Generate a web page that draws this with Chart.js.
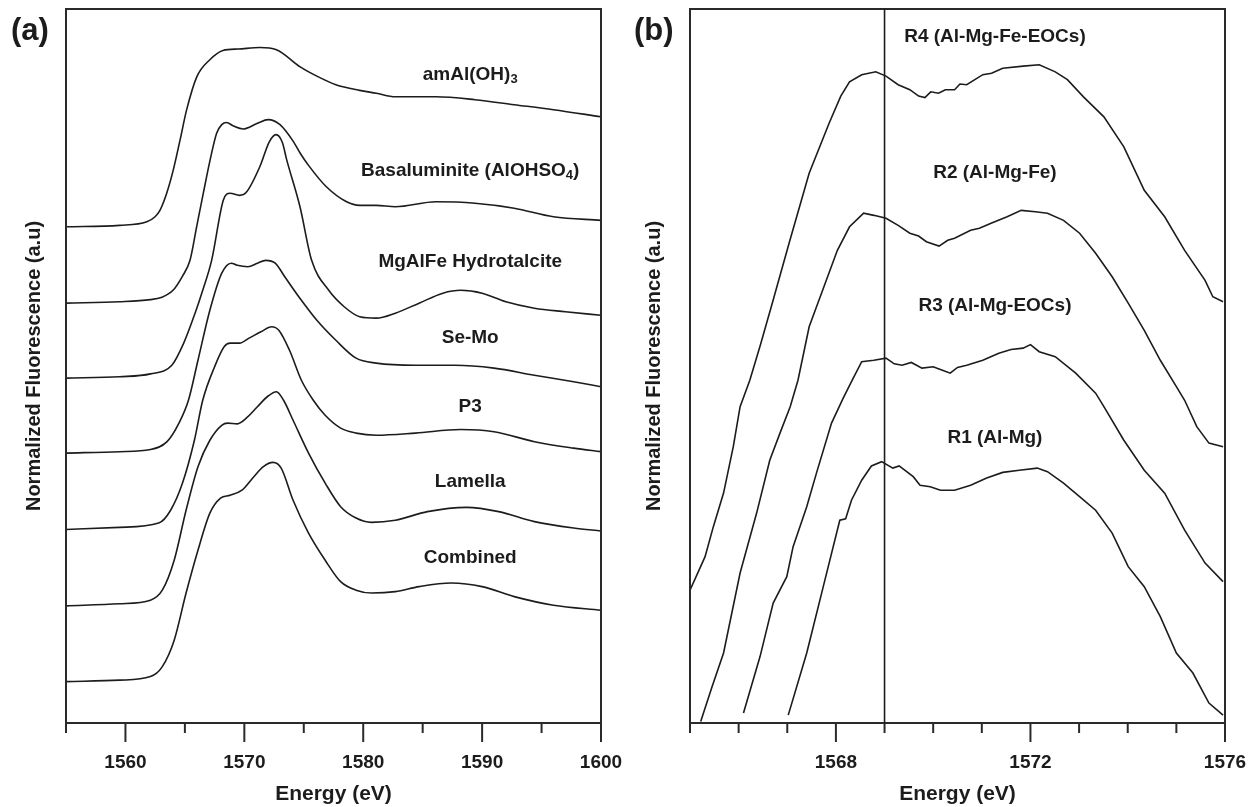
<!DOCTYPE html>
<html>
<head>
<meta charset="utf-8">
<script src="https://cdn.jsdelivr.net/npm/chart.js@4.4.1/dist/chart.umd.min.js"></script>
<style>
  body { margin: 0; background: #fff; }
  #wrap { position: relative; width: 1251px; height: 807px; }
  canvas { position: absolute; top: 0; }
</style>
</head>
<body>
<div id="wrap">
  <canvas id="chartA" width="625" height="807" style="left:0"></canvas>
  <canvas id="chartB" width="626" height="807" style="left:625px"></canvas>
</div>
<script>
// (a) stacked Al K-edge spectra, [energy (eV), normalized fluorescence (a.u.)]
const amAlOH3 = [[1555,69.5],[1559.5,69.7],[1561.8,70.2],[1562.49,70.9],[1562.9,71.8],[1563.47,74.2],[1564.03,77.5],[1564.6,81.7],[1565.15,85.9],[1566.0,90.5],[1567.1,92.9],[1568.2,94.2],[1569.5,94.4],[1571.3,94.6],[1572.7,94.3],[1574.7,91.9],[1576.1,90.6],[1577.7,89.4],[1579.7,88.6],[1581.1,88.2],[1582.7,87.7],[1586.1,87.7],[1589.4,87.3],[1592.7,86.6],[1596.0,85.9],[1600,84.9]];
const basaluminite = [[1555,58.8],[1559.5,59.0],[1562.1,59.3],[1563.0,59.6],[1564.0,60.6],[1564.8,62.6],[1565.43,64.8],[1566.0,69.6],[1566.55,74.2],[1567.1,78.7],[1567.67,82.6],[1568.1,83.8],[1568.5,84.1],[1569.1,83.6],[1569.9,83.2],[1571.1,84.0],[1572.0,84.5],[1573.0,83.8],[1574.1,81.5],[1574.7,79.8],[1575.4,78.1],[1576.9,75.1],[1578.6,73.0],[1579.7,72.5],[1581.1,72.5],[1582.7,72.3],[1586.1,73.0],[1589.4,72.8],[1592.7,72.1],[1596.0,70.9],[1600,70.4]];
const hydrotalcite = [[1555,48.3],[1559.5,48.5],[1562.1,48.9],[1563.9,50.1],[1564.9,53.2],[1565.9,57.6],[1566.5,60.6],[1567.25,64.8],[1568.23,73.2],[1568.8,74.2],[1569.6,73.9],[1570.2,74.4],[1571.3,77.9],[1572.1,81.4],[1572.66,82.4],[1573.2,81.3],[1573.56,78.9],[1574.68,72.3],[1575.66,64.8],[1577.1,60.6],[1578.4,58.3],[1579.7,56.9],[1581.1,56.7],[1582.7,57.4],[1584.7,58.8],[1586.7,60.2],[1588.2,60.6],[1590.0,60.2],[1592.0,59.0],[1594.4,58.1],[1597.0,57.6],[1600,57.1]];
const seMo = [[1555,37.8],[1559.5,38.0],[1562.1,38.3],[1563.5,39.4],[1564.5,42.0],[1565.3,45.2],[1566.1,50.8],[1567.1,57.8],[1568.1,63.0],[1568.9,64.4],[1569.4,64.1],[1570.3,63.9],[1571.1,64.4],[1571.8,64.8],[1572.6,64.4],[1573.4,62.5],[1574.8,59.2],[1576.1,56.4],[1577.7,53.6],[1579.4,51.1],[1581.1,50.4],[1584.4,50.1],[1587.7,50.1],[1591.0,49.7],[1594.4,48.7],[1597.7,47.8],[1600,47.1]];
const p3 = [[1555,27.1],[1559.5,27.4],[1562.8,28.0],[1563.8,29.8],[1564.8,33.6],[1565.8,39.6],[1566.5,45.2],[1567.5,49.9],[1568.3,52.7],[1568.8,53.2],[1569.6,53.2],[1570.4,53.9],[1571.4,54.8],[1572.3,55.5],[1572.9,55.0],[1573.8,52.2],[1574.8,48.0],[1575.8,45.2],[1576.8,43.1],[1578.1,41.3],[1579.4,40.6],[1581.1,40.3],[1584.4,40.6],[1588.2,41.1],[1591.0,40.8],[1594.4,39.4],[1597.7,38.5],[1600,38.0]];
const lamella = [[1555,16.4],[1559.5,16.7],[1562.1,17.2],[1563.1,18.6],[1564.1,22.8],[1565.1,29.8],[1566.1,35.9],[1567.1,39.6],[1568.1,41.7],[1568.6,42.0],[1569.4,41.9],[1570.3,42.9],[1571.1,44.3],[1572.0,45.8],[1572.7,46.4],[1573.3,45.2],[1574.1,42.4],[1575.4,37.8],[1576.8,33.6],[1578.1,30.3],[1579.4,28.7],[1580.7,28.1],[1582.7,28.4],[1585.4,29.6],[1588.7,30.2],[1591.4,29.6],[1594.4,28.2],[1597.7,27.3],[1600,26.9]];
const combined = [[1555,5.8],[1559.5,6.0],[1562.1,6.5],[1563.1,7.9],[1564.1,11.6],[1565.1,18.2],[1566.1,24.2],[1567.1,29.4],[1568.0,31.5],[1568.8,31.9],[1569.8,32.6],[1570.8,34.5],[1571.6,35.9],[1572.4,36.5],[1573.1,35.7],[1574.1,31.2],[1575.4,26.6],[1576.8,22.8],[1578.1,19.8],[1579.4,18.6],[1580.7,18.2],[1582.7,18.4],[1584.7,19.1],[1587.4,19.6],[1590.0,19.1],[1592.7,17.7],[1596.0,16.5],[1600,15.8]];

// (b) region spectra, edge region only
const r4 = [[1565,18.6],[1565.31,23.3],[1565.48,27.5],[1565.69,32.2],[1565.89,38.7],[1566.03,44.3],[1566.23,48.0],[1566.45,53.0],[1566.7,59.0],[1567.05,67.5],[1567.45,77.0],[1567.86,84.0],[1568.1,87.8],[1568.28,89.8],[1568.53,90.8],[1568.82,91.2],[1569.03,90.6],[1569.28,89.4],[1569.52,88.7],[1569.7,87.8],[1569.83,87.6],[1569.95,88.4],[1570.11,88.2],[1570.25,88.7],[1570.44,88.7],[1570.55,89.5],[1570.69,89.4],[1571.02,90.8],[1571.2,91.0],[1571.43,91.7],[1571.85,92.0],[1572.18,92.2],[1572.51,91.2],[1572.76,90.1],[1573.09,87.7],[1573.51,84.9],[1573.92,80.7],[1574.34,74.6],[1574.76,70.9],[1575.17,66.2],[1575.59,62.0],[1575.75,59.7],[1575.96,59.0]];
const r2 = [[1565.22,0.2],[1565.45,5.0],[1565.69,9.8],[1566.03,21.0],[1566.37,29.4],[1566.64,36.8],[1566.85,40.6],[1567.06,44.3],[1567.22,48.0],[1567.45,55.5],[1567.78,61.6],[1568.03,66.2],[1568.28,69.5],[1568.57,71.4],[1568.78,71.1],[1569.03,70.7],[1569.28,69.7],[1569.52,68.6],[1569.7,68.2],[1569.86,67.4],[1570.12,66.8],[1570.3,67.6],[1570.44,67.9],[1570.77,69.0],[1570.95,69.3],[1571.19,70.0],[1571.52,70.9],[1571.81,71.8],[1572.1,71.6],[1572.35,71.4],[1572.68,70.4],[1573.01,68.6],[1573.34,65.8],[1573.68,62.5],[1574.01,58.8],[1574.34,55.0],[1574.67,50.8],[1575.0,47.1],[1575.17,45.2],[1575.42,41.5],[1575.67,39.2],[1575.96,38.7]];
const r3 = [[1566.1,1.4],[1566.44,9.3],[1566.71,16.8],[1566.99,20.5],[1567.12,24.7],[1567.4,30.3],[1567.6,35.0],[1567.91,42.0],[1568.15,45.5],[1568.32,47.8],[1568.53,50.6],[1568.78,50.8],[1569.03,51.1],[1569.2,50.3],[1569.36,50.1],[1569.55,50.5],[1569.77,49.7],[1570.0,49.9],[1570.19,49.4],[1570.35,49.0],[1570.5,49.8],[1570.69,50.1],[1571.02,50.8],[1571.35,51.8],[1571.6,52.3],[1571.85,52.5],[1572.0,53.0],[1572.18,52.0],[1572.51,51.3],[1572.93,49.0],[1573.34,46.2],[1573.51,44.3],[1573.92,39.6],[1574.34,35.4],[1574.76,32.2],[1575.17,27.0],[1575.59,22.4],[1575.96,19.8]];
const r1 = [[1567.02,1.1],[1567.4,9.8],[1567.74,19.1],[1568.08,28.4],[1568.2,28.6],[1568.32,31.2],[1568.53,34.0],[1568.73,36.0],[1568.94,36.6],[1569.17,35.7],[1569.3,36.0],[1569.59,34.5],[1569.73,33.3],[1569.94,33.1],[1570.15,32.6],[1570.44,32.6],[1570.77,33.3],[1571.1,34.3],[1571.43,35.1],[1571.77,35.4],[1572.14,35.7],[1572.35,35.2],[1572.68,33.6],[1573.01,31.7],[1573.34,29.8],[1573.68,26.6],[1574.01,21.9],[1574.34,19.1],[1574.67,14.9],[1575.0,9.8],[1575.34,7.0],[1575.67,2.8],[1575.96,1.1]];

const edgeEnergy = 1569; // vertical reference line in (b)

const FONT = "'Liberation Sans', Arial, sans-serif";
const INK = '#1c1c1c';

function toXY(pairs) {
    return pairs.map(([x, y]) => ({x, y}));
}

function lineSet(pairs, tension) {
    return {
        data: toXY(pairs),
        borderColor: INK,
        borderWidth: 1.6,
        pointRadius: 0,
        fill: false,
        tension: tension,
        cubicInterpolationMode: tension ? 'monotone' : 'default'
    };
}

// text with an optional subscript part, centred on cx
function drawLabel(ctx, parts, cx, cy) {
    const big = 'bold 19px ' + FONT, small = 'bold 13px ' + FONT;
    let total = 0;
    parts.forEach(p => { ctx.font = p.sub ? small : big; total += ctx.measureText(p.t).width; });
    let x = cx - total / 2;
    parts.forEach(p => {
        ctx.font = p.sub ? small : big;
        ctx.fillText(p.t, x, cy + (p.sub ? 5 : 0));
        x += ctx.measureText(p.t).width;
    });
}

const framePlugin = {
    id: 'frame',
    afterDraw(chart, args, opts) {
        const {ctx, chartArea: a, scales: {x, y}} = chart;
        ctx.save();
        ctx.strokeStyle = '#2a2a2a';
        ctx.lineWidth = 2;
        ctx.strokeRect(a.left, a.top, a.right - a.left, a.bottom - a.top);
        x.ticks.forEach(t => {
            const px = x.getPixelForValue(t.value);
            const len = t.value % opts.major === 0 ? 19 : 10;
            ctx.beginPath();
            ctx.moveTo(px, a.bottom);
            ctx.lineTo(px, a.bottom + len);
            ctx.stroke();
        });
        if (opts.marker !== undefined) {
            const px = x.getPixelForValue(opts.marker);
            ctx.lineWidth = 1.6;
            ctx.strokeStyle = INK;
            ctx.beginPath();
            ctx.moveTo(px, a.top);
            ctx.lineTo(px, a.bottom);
            ctx.stroke();
        }
        ctx.fillStyle = INK;
        ctx.textAlign = 'left';
        ctx.textBaseline = 'middle';
        opts.labels.forEach(l => drawLabel(ctx, l.parts, x.getPixelForValue(l.x), y.getPixelForValue(l.y)));
        ctx.font = 'bold 31px ' + FONT;
        ctx.fillText(opts.letter, opts.letterX, 31);
        ctx.restore();
    }
};

function makeChart(id, sets, o) {
    return new Chart(document.getElementById(id), {
        type: 'line',
        data: { datasets: sets },
        options: {
            responsive: false,
            animation: false,
            layout: { padding: { left: 0, top: 9, right: o.padRight, bottom: 0 } },
            plugins: {
                legend: { display: false },
                tooltip: { enabled: false },
                frame: o.frame
            },
            scales: {
                x: {
                    type: 'linear',
                    min: o.xMin,
                    max: o.xMax,
                    border: { display: false },
                    grid: { display: false, drawTicks: false },
                    ticks: {
                        stepSize: o.step,
                        autoSkip: false,
                        maxRotation: 0,
                        padding: 28,
                        color: INK,
                        font: { family: FONT, size: 19, weight: 'bold' },
                        callback: v => (v % o.frame.major === 0 ? String(v) : '')
                    },
                    title: {
                        display: true,
                        text: 'Energy (eV)',
                        color: INK,
                        padding: { top: 0, bottom: 0 },
                        font: { family: FONT, size: 21, weight: 'bold' }
                    },
                    afterFit: s => { s.height = 84; s.paddingLeft = 0; s.paddingRight = 0; }
                },
                y: {
                    min: 0,
                    max: 100,
                    border: { display: false },
                    grid: { display: false },
                    ticks: { display: false },
                    title: {
                        display: true,
                        text: 'Normalized Fluorescence (a.u)',
                        color: INK,
                        padding: { top: o.yTitlePad, bottom: 0 },
                        font: { family: FONT, size: 20, weight: 'bold' }
                    },
                    afterFit: s => { s.width = o.yWidth; s.paddingTop = 0; s.paddingBottom = 0; }
                }
            }
        },
        plugins: [framePlugin]
    });
}

makeChart('chartA',
    [amAlOH3, basaluminite, hydrotalcite, seMo, p3, lamella, combined].map(s => lineSet(s, 0.3)),
    {
        xMin: 1555, xMax: 1600, step: 5, padRight: 24, yWidth: 66, yTitlePad: 22,
        frame: {
            major: 10,
            letter: '(a)', letterX: 11,
            labels: [
                { x: 1589, y: 90.8, parts: [{t: 'amAl(OH)'}, {t: '3', sub: true}] },
                { x: 1589, y: 77.4, parts: [{t: 'Basaluminite (AlOHSO'}, {t: '4', sub: true}, {t: ')'}] },
                { x: 1589, y: 64.6, parts: [{t: 'MgAlFe Hydrotalcite'}] },
                { x: 1589, y: 53.9, parts: [{t: 'Se-Mo'}] },
                { x: 1589, y: 44.3, parts: [{t: 'P3'}] },
                { x: 1589, y: 33.8, parts: [{t: 'Lamella'}] },
                { x: 1589, y: 23.1, parts: [{t: 'Combined'}] }
            ]
        }
    });

makeChart('chartB',
    [r4, r2, r3, r1].map(s => lineSet(s, 0)),
    {
        xMin: 1565, xMax: 1576, step: 1, padRight: 26, yWidth: 65, yTitlePad: 17,
        frame: {
            major: 4,
            marker: edgeEnergy,
            letter: '(b)', letterX: 9,
            labels: [
                { x: 1571.27, y: 96.1, parts: [{t: 'R4 (Al-Mg-Fe-EOCs)'}] },
                { x: 1571.27, y: 77.0, parts: [{t: 'R2 (Al-Mg-Fe)'}] },
                { x: 1571.27, y: 58.5, parts: [{t: 'R3 (Al-Mg-EOCs)'}] },
                { x: 1571.27, y: 39.9, parts: [{t: 'R1 (Al-Mg)'}] }
            ]
        }
    });
</script>
</body>
</html>
